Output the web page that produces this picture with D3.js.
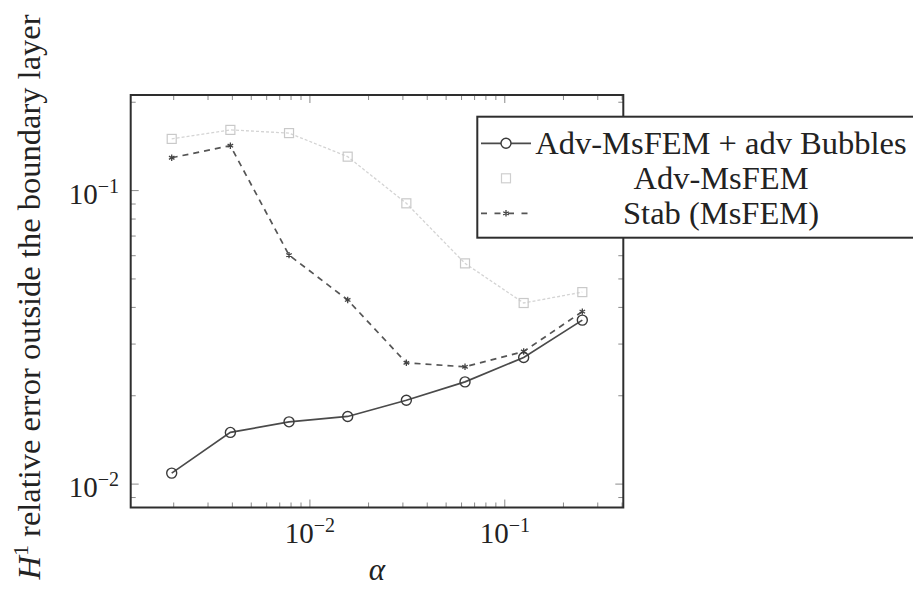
<!DOCTYPE html>
<html>
<head>
<meta charset="utf-8">
<script src="https://cdn.jsdelivr.net/npm/d3@7"></script>
<style>
  html, body { margin: 0; padding: 0; background: #fff; }
  svg { display: block; }
  .srf { font-family: "Liberation Serif", "DejaVu Serif", serif; }
</style>
</head>
<body>
<svg id="chart" width="913" height="593"></svg>
<script>
// ---- data ----
const alphaValues = [0.001953125, 0.00390625, 0.0078125, 0.015625, 0.03125, 0.0625, 0.125, 0.25];
const bubblesErr  = [0.0109, 0.0150, 0.0163, 0.0170, 0.0193, 0.0223, 0.0270, 0.0362];
const advMsFEMErr = [0.150, 0.161, 0.157, 0.1305, 0.0905, 0.0565, 0.0414, 0.0451];
const stabErr     = [0.1294, 0.1422, 0.0603, 0.0424, 0.0259, 0.0251, 0.0283, 0.0387];
const seriesNames = ["Adv-MsFEM + adv Bubbles", "Adv-MsFEM", "Stab (MsFEM)"];
const xTickExps = [-2, -1];
const yTickExps = [-2, -1];
const xLabel = "α";
const yLabelMain = " relative error outside the boundary layer";

// ---- layout ----
const svg = d3.select("#chart");
const L = 130.7, R = 623.3, T = 95, B = 507.5;

const x = d3.scaleLog().domain([Math.pow(10, -2.9197), Math.pow(10, -0.3918)]).range([L, R]);
const y = d3.scaleLog().domain([Math.pow(10, -2.0797), Math.pow(10, -0.6743)]).range([B, T]);

// ---- ticks (inward, all four sides) ----
function logTicks(scale) {
  const [a, b] = scale.domain();
  const out = [];
  for (let e = Math.floor(Math.log10(a)); e <= Math.ceil(Math.log10(b)); e++) {
    for (let m = 1; m <= 9; m++) {
      const v = m * Math.pow(10, e);
      if (v >= a && v <= b) out.push({ v, major: m === 1 });
    }
  }
  return out;
}
const tickG = svg.append("g").attr("stroke", "#8a8a8a").attr("stroke-width", 1);
logTicks(x).forEach(t => {
  const px = x(t.v), len = t.major ? 8 : 5;
  tickG.append("line").attr("x1", px).attr("x2", px).attr("y1", B).attr("y2", B - len);
  tickG.append("line").attr("x1", px).attr("x2", px).attr("y1", T).attr("y2", T + len);
});
logTicks(y).forEach(t => {
  const py = y(t.v), len = t.major ? 8 : 5;
  tickG.append("line").attr("y1", py).attr("y2", py).attr("x1", L).attr("x2", L + len);
  tickG.append("line").attr("y1", py).attr("y2", py).attr("x1", R).attr("x2", R - len);
});

// ---- series ----
const line = d3.line().x(d => x(d[0])).y(d => y(d[1]));
const advData = alphaValues.map((a, i) => [a, advMsFEMErr[i]]);
const stabData = alphaValues.map((a, i) => [a, stabErr[i]]);
const bubData = alphaValues.map((a, i) => [a, bubblesErr[i]]);

// Adv-MsFEM (very light)
svg.append("path").attr("d", line(advData)).attr("fill", "none")
  .attr("stroke", "#d4d4d4").attr("stroke-width", 1.3).attr("stroke-dasharray", "3,2");
svg.append("g").selectAll("rect").data(advData).join("rect")
  .attr("x", d => x(d[0]) - 4.5).attr("y", d => y(d[1]) - 4.5)
  .attr("width", 9).attr("height", 9)
  .attr("fill", "none").attr("stroke", "#c9c9c9").attr("stroke-width", 1.2);

// Stab (dashed)
svg.append("path").attr("d", line(stabData)).attr("fill", "none")
  .attr("stroke", "#555").attr("stroke-width", 1.7).attr("stroke-dasharray", "6,5");
const ast = d3.symbol().type(d3.symbolAsterisk).size(28);
svg.append("g").selectAll("path").data(stabData).join("path")
  .attr("d", ast).attr("transform", d => `translate(${x(d[0])},${y(d[1])})`)
  .attr("fill", "none").attr("stroke", "#444").attr("stroke-width", 1.3);

// Bubbles (solid + circles)
svg.append("path").attr("d", line(bubData)).attr("fill", "none")
  .attr("stroke", "#4a4a4a").attr("stroke-width", 1.7);
svg.append("g").selectAll("circle").data(bubData).join("circle")
  .attr("cx", d => x(d[0])).attr("cy", d => y(d[1])).attr("r", 5)
  .attr("fill", "none").attr("stroke", "#3a3a3a").attr("stroke-width", 1.4);

// ---- frame ----
svg.append("rect").attr("x", L).attr("y", T).attr("width", R - L).attr("height", B - T)
  .attr("fill", "none").attr("stroke", "#2e2e2e").attr("stroke-width", 2);

// ---- tick labels ----
function powLabel(g, exp, px, py, anchor) {
  const t = g.append("text").attr("class", "srf").attr("x", px).attr("y", py).attr("text-anchor", anchor)
    .attr("font-size", 29).attr("fill", "#222");
  t.append("tspan").text("10");
  t.append("tspan").attr("font-size", 20).attr("dy", -11).text("−" + Math.abs(exp));
}
const lbl = svg.append("g");
xTickExps.forEach(e => powLabel(lbl, e, x(Math.pow(10, e)), 543, "middle"));
yTickExps.forEach(e => powLabel(lbl, e, 119, y(Math.pow(10, e)) + 13, "end"));

// ---- axis labels ----
svg.append("text").attr("class", "srf").attr("x", (L + R) / 2).attr("y", 580).attr("text-anchor", "middle")
  .attr("font-style", "italic").attr("font-size", 31)
  .attr("fill", "#222").text(xLabel);

const yl = svg.append("text").attr("class", "srf").attr("transform", "translate(40,297) rotate(-90)")
  .attr("text-anchor", "middle").attr("font-size", 32.5).attr("fill", "#222");
yl.append("tspan").attr("font-style", "italic").text("H");
yl.append("tspan").attr("font-size", 22).attr("dy", -12).text("1");
yl.append("tspan").attr("dy", 12).text(yLabelMain);

// ---- legend ----
const lg = svg.append("g");
lg.append("rect").attr("x", 477.3).attr("y", 116.7).attr("width", 460).attr("height", 121)
  .attr("fill", "#fff").attr("stroke", "#2e2e2e").attr("stroke-width", 2);
const rowY = [143.3, 178.3, 213.3];
const sx1 = 481, sx2 = 531, sxm = 506;
// row 1
lg.append("line").attr("x1", sx1).attr("x2", sx2).attr("y1", rowY[0]).attr("y2", rowY[0])
  .attr("stroke", "#4a4a4a").attr("stroke-width", 1.7);
lg.append("circle").attr("cx", sxm).attr("cy", rowY[0]).attr("r", 5)
  .attr("fill", "#fff").attr("stroke", "#3a3a3a").attr("stroke-width", 1.4);
// row 2
lg.append("rect").attr("x", sxm - 4.5).attr("y", rowY[1] - 4.5).attr("width", 9).attr("height", 9)
  .attr("fill", "none").attr("stroke", "#cfcfcf").attr("stroke-width", 1.2);
// row 3
lg.append("line").attr("x1", sx1).attr("x2", sx2).attr("y1", rowY[2]).attr("y2", rowY[2])
  .attr("stroke", "#555").attr("stroke-width", 1.7).attr("stroke-dasharray", "6,7.5");
lg.append("path").attr("d", ast).attr("transform", `translate(${sxm},${rowY[2]})`)
  .attr("fill", "none").attr("stroke", "#444").attr("stroke-width", 1.3);
seriesNames.forEach((n, i) => {
  lg.append("text").attr("class", "srf").attr("x", 721).attr("y", rowY[i] + 11).attr("text-anchor", "middle")
    .attr("font-size", 32.5).attr("fill", "#222").text(n);
});
</script>
</body>
</html>
